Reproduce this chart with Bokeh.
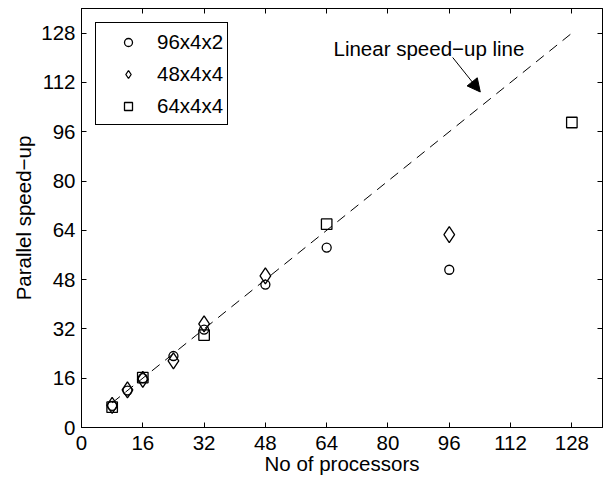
from bokeh.plotting import figure
from bokeh.models import (FixedTicker, LinearAxis, Legend, LegendItem, Arrow, NormalHead,
                          CustomJSTickFormatter)
from bokeh.core.properties import value
from bokeh.embed import file_html
from bokeh.resources import INLINE

# ---- data ----
procs_96x4x2 = [8, 12, 16, 24, 32, 48, 64, 96]
speedup_96x4x2 = [7.0, 12.0, 16.0, 23.2, 31.8, 46.4, 58.4, 51.2]

procs_48x4x4 = [8, 12, 16, 24, 32, 48, 96]
speedup_48x4x4 = [7.2, 12.2, 15.6, 21.6, 33.6, 49.2, 62.6]

procs_64x4x4 = [8, 16, 32, 64, 128]
speedup_64x4x4 = [6.6, 16.2, 30.0, 66.0, 99.0]

linear_procs = [8, 128]
linear_speedup = [8, 128]

tick_values = [0, 16, 32, 48, 64, 80, 96, 112, 128]

series_labels = ["96x4x2", "48x4x4", "64x4x4"]
annotation_text = "Linear speed\u2212up line"
x_label = "No of processors"
y_label = "Parallel speed\u2212up"

FONT = "Liberation Sans"
FS = "20.5px"

p = figure(frame_width=521, frame_height=419, x_range=(0, 136), y_range=(0, 136),
           output_backend="svg", toolbar_location=None,
           min_border_left=81, min_border_right=6, min_border_top=8, min_border_bottom=0,
           background_fill_color="white", border_fill_color="white")
p.xgrid.visible = False
p.ygrid.visible = False
p.outline_line_color = "black"
p.outline_line_width = 1
p.outline_line_alpha = 1

for ax in (p.xaxis[0], p.yaxis[0]):
    ax.ticker = FixedTicker(ticks=tick_values)
    ax.major_tick_in = 5
    ax.major_tick_out = 0
    ax.minor_tick_line_color = None
    ax.axis_line_color = "black"
    ax.major_tick_line_color = "black"
    ax.major_label_text_font = FONT
    ax.major_label_text_font_size = FS
    ax.major_label_text_color = "black"
    ax.axis_label_text_font = FONT
    ax.axis_label_text_font_size = FS
    ax.axis_label_text_font_style = "normal"
    ax.axis_label_text_color = "black"

p.xaxis[0].axis_label = x_label
p.yaxis[0].axis_label = y_label
p.xaxis[0].major_label_standoff = 8
p.xaxis[0].axis_label_standoff = -1
p.yaxis[0].major_label_standoff = 6
p.yaxis[0].axis_label_standoff = 3

# mirrored ticks on top and right
empty = CustomJSTickFormatter(code="return ''")
top_ax = LinearAxis(ticker=FixedTicker(ticks=tick_values), formatter=empty,
                    major_tick_in=5, major_tick_out=0, minor_tick_line_color=None,
                    major_label_standoff=0, axis_line_color="black",
                    major_label_text_font_size="1px")
right_ax = LinearAxis(ticker=FixedTicker(ticks=tick_values), formatter=empty,
                      major_tick_in=5, major_tick_out=0, minor_tick_line_color=None,
                      major_label_standoff=0, axis_line_color="black",
                      major_label_text_font_size="1px")
p.add_layout(top_ax, "above")
p.add_layout(right_ax, "right")

# linear speed-up line
p.line(linear_procs, linear_speedup, line_color="black", line_width=1, line_dash="10 7")

r1 = p.scatter(procs_96x4x2, speedup_96x4x2, marker="circle", size=9,
               fill_color=None, line_color="black", line_width=1.3)
r2 = p.scatter(procs_48x4x4, speedup_48x4x4, marker="diamond", size=16,
               fill_color=None, line_color="black", line_width=1.3)
r3 = p.scatter(procs_64x4x4, speedup_64x4x4, marker="square", size=10.5,
               fill_color=None, line_color="black", line_width=1.3)

legend = Legend(items=[LegendItem(label=series_labels[0], renderers=[r1]),
                       LegendItem(label=series_labels[1], renderers=[r2]),
                       LegendItem(label=series_labels[2], renderers=[r3])],
                location="top_left", margin=14, padding=4,
                glyph_width=56, glyph_height=20, label_height=29, spacing=3,
                label_standoff=1,
                label_text_font=FONT, label_text_font_size=FS, label_text_color="black",
                border_line_color="black", border_line_width=1, border_line_alpha=1,
                background_fill_color="white", background_fill_alpha=1)
p.add_layout(legend, "center")

# annotation
p.text(x=[90.7], y=[123.1], text=[annotation_text], text_font=value(FONT),
       text_font_size=FS, text_align="center", text_baseline="alphabetic",
       text_color="black")
p.add_layout(Arrow(end=NormalHead(size=13, fill_color="black", line_color="black"),
                   x_start=96.9, y_start=120.1, x_end=104.1, y_end=108.9,
                   line_color="black", line_width=1))

open("out.html", "w").write(file_html(p, INLINE))
